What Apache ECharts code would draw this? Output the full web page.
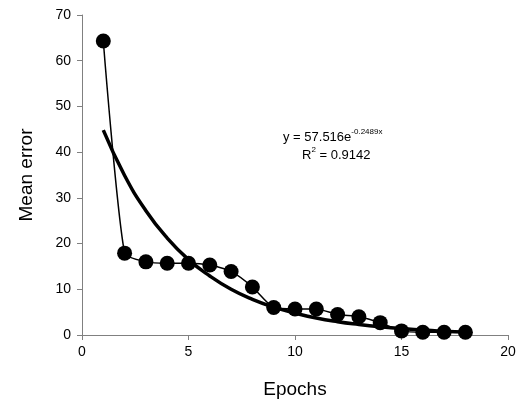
<!DOCTYPE html>
<html>
<head>
<meta charset="utf-8">
<script src="https://cdn.jsdelivr.net/npm/echarts@6/dist/echarts.min.js"></script>
<style>
  html, body { margin: 0; padding: 0; background: #fff; }
  #chart { width: 522px; height: 407px; }
</style>
</head>
<body>
<div id="chart"></div>
<script>
  // epochs and measured mean error
  var epochs = [1, 2, 3, 4, 5, 6, 7, 8, 9, 10, 11, 12, 13, 14, 15, 16, 17, 18];
  var meanError = [64.3, 17.9, 16.0, 15.7, 15.7, 15.3, 13.9, 10.5, 6.0, 5.7, 5.7, 4.5, 4.0, 2.7, 0.9, 0.6, 0.6, 0.6];
  // exponential trendline
  var trendValues = [44.8, 34.9, 27.2, 21.2, 16.5, 12.9, 10.0, 7.8, 6.1, 4.8, 3.7, 2.9, 2.3, 1.8, 1.4, 1.1, 0.8, 0.65];
  var xTicks = [0, 5, 10, 15, 20];
  var yTicks = [0, 10, 20, 30, 40, 50, 60, 70];

  var font = 'Liberation Sans, Arial, sans-serif';
  var chart = echarts.init(document.getElementById('chart'));

  var pts = [], trend = [];
  for (var i = 0; i < epochs.length; i++) {
    pts.push([epochs[i], meanError[i]]);
    trend.push([epochs[i], trendValues[i]]);
  }

  var option = {
    animation: false,
    grid: { left: 82, right: 14, top: 15, bottom: 72 },
    xAxis: {
      type: 'value',
      min: xTicks[0], max: xTicks[xTicks.length - 1], interval: 5,
      name: 'Epochs', nameLocation: 'middle', nameGap: 45,
      nameTextStyle: { fontFamily: font, fontSize: 19, color: '#000' },
      axisLine: { lineStyle: { color: '#808080', width: 1 } },
      axisTick: { show: true, length: 5, inside: false, lineStyle: { color: '#808080' } },
      axisLabel: { fontFamily: font, fontSize: 14, color: '#000', margin: 10 },
      splitLine: { show: false }
    },
    yAxis: {
      type: 'value',
      min: yTicks[0], max: yTicks[yTicks.length - 1], interval: 10,
      name: 'Mean error', nameLocation: 'middle', nameGap: 46,
      nameTextStyle: { fontFamily: font, fontSize: 19, color: '#000' },
      axisLine: { show: true, lineStyle: { color: '#808080', width: 1 } },
      axisTick: { show: true, length: 5, lineStyle: { color: '#808080' } },
      axisLabel: { fontFamily: font, fontSize: 14, color: '#000', margin: 11 },
      splitLine: { show: false }
    },
    series: [
      {
        type: 'line',
        data: trend,
        smooth: true,
        showSymbol: false,
        lineStyle: { color: '#000', width: 3.5 },
        z: 2
      },
      {
        type: 'line',
        data: pts,
        smooth: 0.2,
        symbol: 'circle',
        symbolSize: 15,
        itemStyle: { color: '#000' },
        lineStyle: { color: '#000', width: 1.5 },
        z: 3
      }
    ],
    graphic: [
      {
        type: 'text',
        left: 283, top: 128,
        style: {
          text: '{n|y = 57.516e}{s|-0.2489x}',
          rich: {
            n: { fontFamily: font, fontSize: 13, fill: '#000', verticalAlign: 'bottom' },
            s: { fontFamily: font, fontSize: 8, fill: '#000', padding: [0, 0, 8, 0], verticalAlign: 'bottom' }
          }
        }
      },
      {
        type: 'text',
        left: 302, top: 146,
        style: {
          text: '{n|R}{s|2}{n| = 0.9142}',
          rich: {
            n: { fontFamily: font, fontSize: 13, fill: '#000', verticalAlign: 'bottom' },
            s: { fontFamily: font, fontSize: 8, fill: '#000', padding: [0, 0, 8, 0], verticalAlign: 'bottom' }
          }
        }
      }
    ]
  };

  chart.setOption(option);
</script>
</body>
</html>
